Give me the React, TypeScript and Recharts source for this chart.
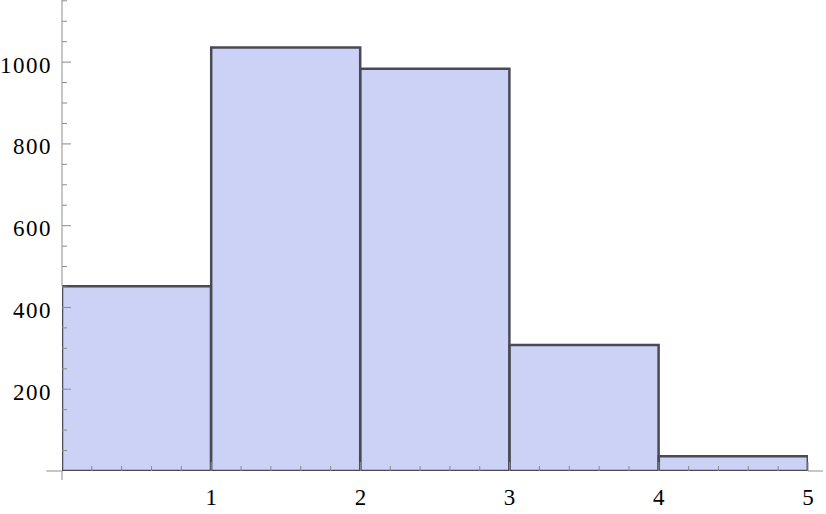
import React from "react";
import { ComposedChart, Bar, XAxis, YAxis, ReferenceLine } from "recharts";

const binCenters = [0.5, 1.5, 2.5, 3.5, 4.5];
const counts = [452, 1036, 984, 308, 36];
const yMajorTicks = [200, 400, 600, 800, 1000];
const yMinorStep = 50;
const xMajorTicks = [1, 2, 3, 4, 5];
const xMinorStep = 0.2;

const data = binCenters.map((c, i) => ({ mid: c, count: counts[i] }));

const Y_MAX = 1152;
const yTicks: number[] = [];
for (let v = yMinorStep; v <= Y_MAX; v += yMinorStep) yTicks.push(v);
const xTicks: number[] = [];
for (let k = 1; k <= 25; k++) xTicks.push(Math.round(k * xMinorStep * 10) / 10);

const FONT = "'Liberation Serif', 'Times New Roman', serif";
const TICK_COLOR = "#8a8a8a";
const AXIS_COLOR = "#a0a0a0";

const renderYTick = (props: any) => {
  const { x, y, payload } = props;
  const v = payload.value;
  const major = yMajorTicks.includes(v);
  const len = major ? 9 : 5;
  return (
    <g key={"y" + v}>
      <line x1={x} y1={y} x2={x + len} y2={y} stroke={TICK_COLOR} strokeWidth={1} />
      {major && (
        <text x={x - 10} y={y} dy={10.5} textAnchor="end" fontFamily={FONT} fontSize={23} letterSpacing={1.5} fill="#000">
          {v}
        </text>
      )}
    </g>
  );
};

const renderXTick = (props: any) => {
  const { x, y, payload } = props;
  const v = payload.value;
  const major = xMajorTicks.includes(v);
  const len = major ? 9 : 5;
  return (
    <g key={"x" + v}>
      <line x1={x} y1={y} x2={x} y2={y - len} stroke={TICK_COLOR} strokeWidth={1} />
      {major && (
        <text x={x} y={y} dy={34} textAnchor="middle" fontFamily={FONT} fontSize={23} fill="#000">
          {v}
        </text>
      )}
    </g>
  );
};

export default function App() {
  return (
    <div style={{ position: "absolute", left: 0, top: 0, width: 826, height: 514, background: "#fff" }}>
      <ComposedChart
        width={826}
        height={514}
        data={data}
        margin={{ top: 0, right: 18, left: 0, bottom: 0 }}
        barCategoryGap={0}
        barGap={0}
      >
        <ReferenceLine
          segment={[{ x: 0, y: -22 }, { x: 0, y: 0 }]}
          stroke={AXIS_COLOR}
          strokeWidth={1.2}
          ifOverflow="visible"
        />
        <ReferenceLine
          segment={[{ x: 0, y: counts[0] }, { x: 0, y: Y_MAX }]}
          stroke={AXIS_COLOR}
          strokeWidth={1.2}
          ifOverflow="visible"
        />
        <ReferenceLine
          segment={[{ x: -0.105, y: 0 }, { x: 0, y: 0 }]}
          stroke={AXIS_COLOR}
          strokeWidth={1.2}
          ifOverflow="visible"
        />
        <ReferenceLine
          segment={[{ x: 5, y: 0 }, { x: 5.1, y: 0 }]}
          stroke={AXIS_COLOR}
          strokeWidth={1.2}
          ifOverflow="visible"
        />
        <Bar
          dataKey="count"
          fill="#cbd2f6"
          stroke="#4a4a55"
          strokeWidth={2.5}
          isAnimationActive={false}
        />
        <XAxis
          dataKey="mid"
          type="number"
          domain={[0, 5]}
          ticks={xTicks}
          interval={0}
          axisLine={false}
          tickLine={false}
          tickSize={0}
          tickMargin={0}
          tick={renderXTick}
          height={43}
          allowDataOverflow
        />
        <YAxis
          type="number"
          domain={[0, Y_MAX]}
          ticks={yTicks}
          interval={0}
          axisLine={false}
          tickLine={false}
          tickSize={0}
          tickMargin={0}
          tick={renderYTick}
          width={62}
          allowDataOverflow
        />
      </ComposedChart>
    </div>
  );
}
